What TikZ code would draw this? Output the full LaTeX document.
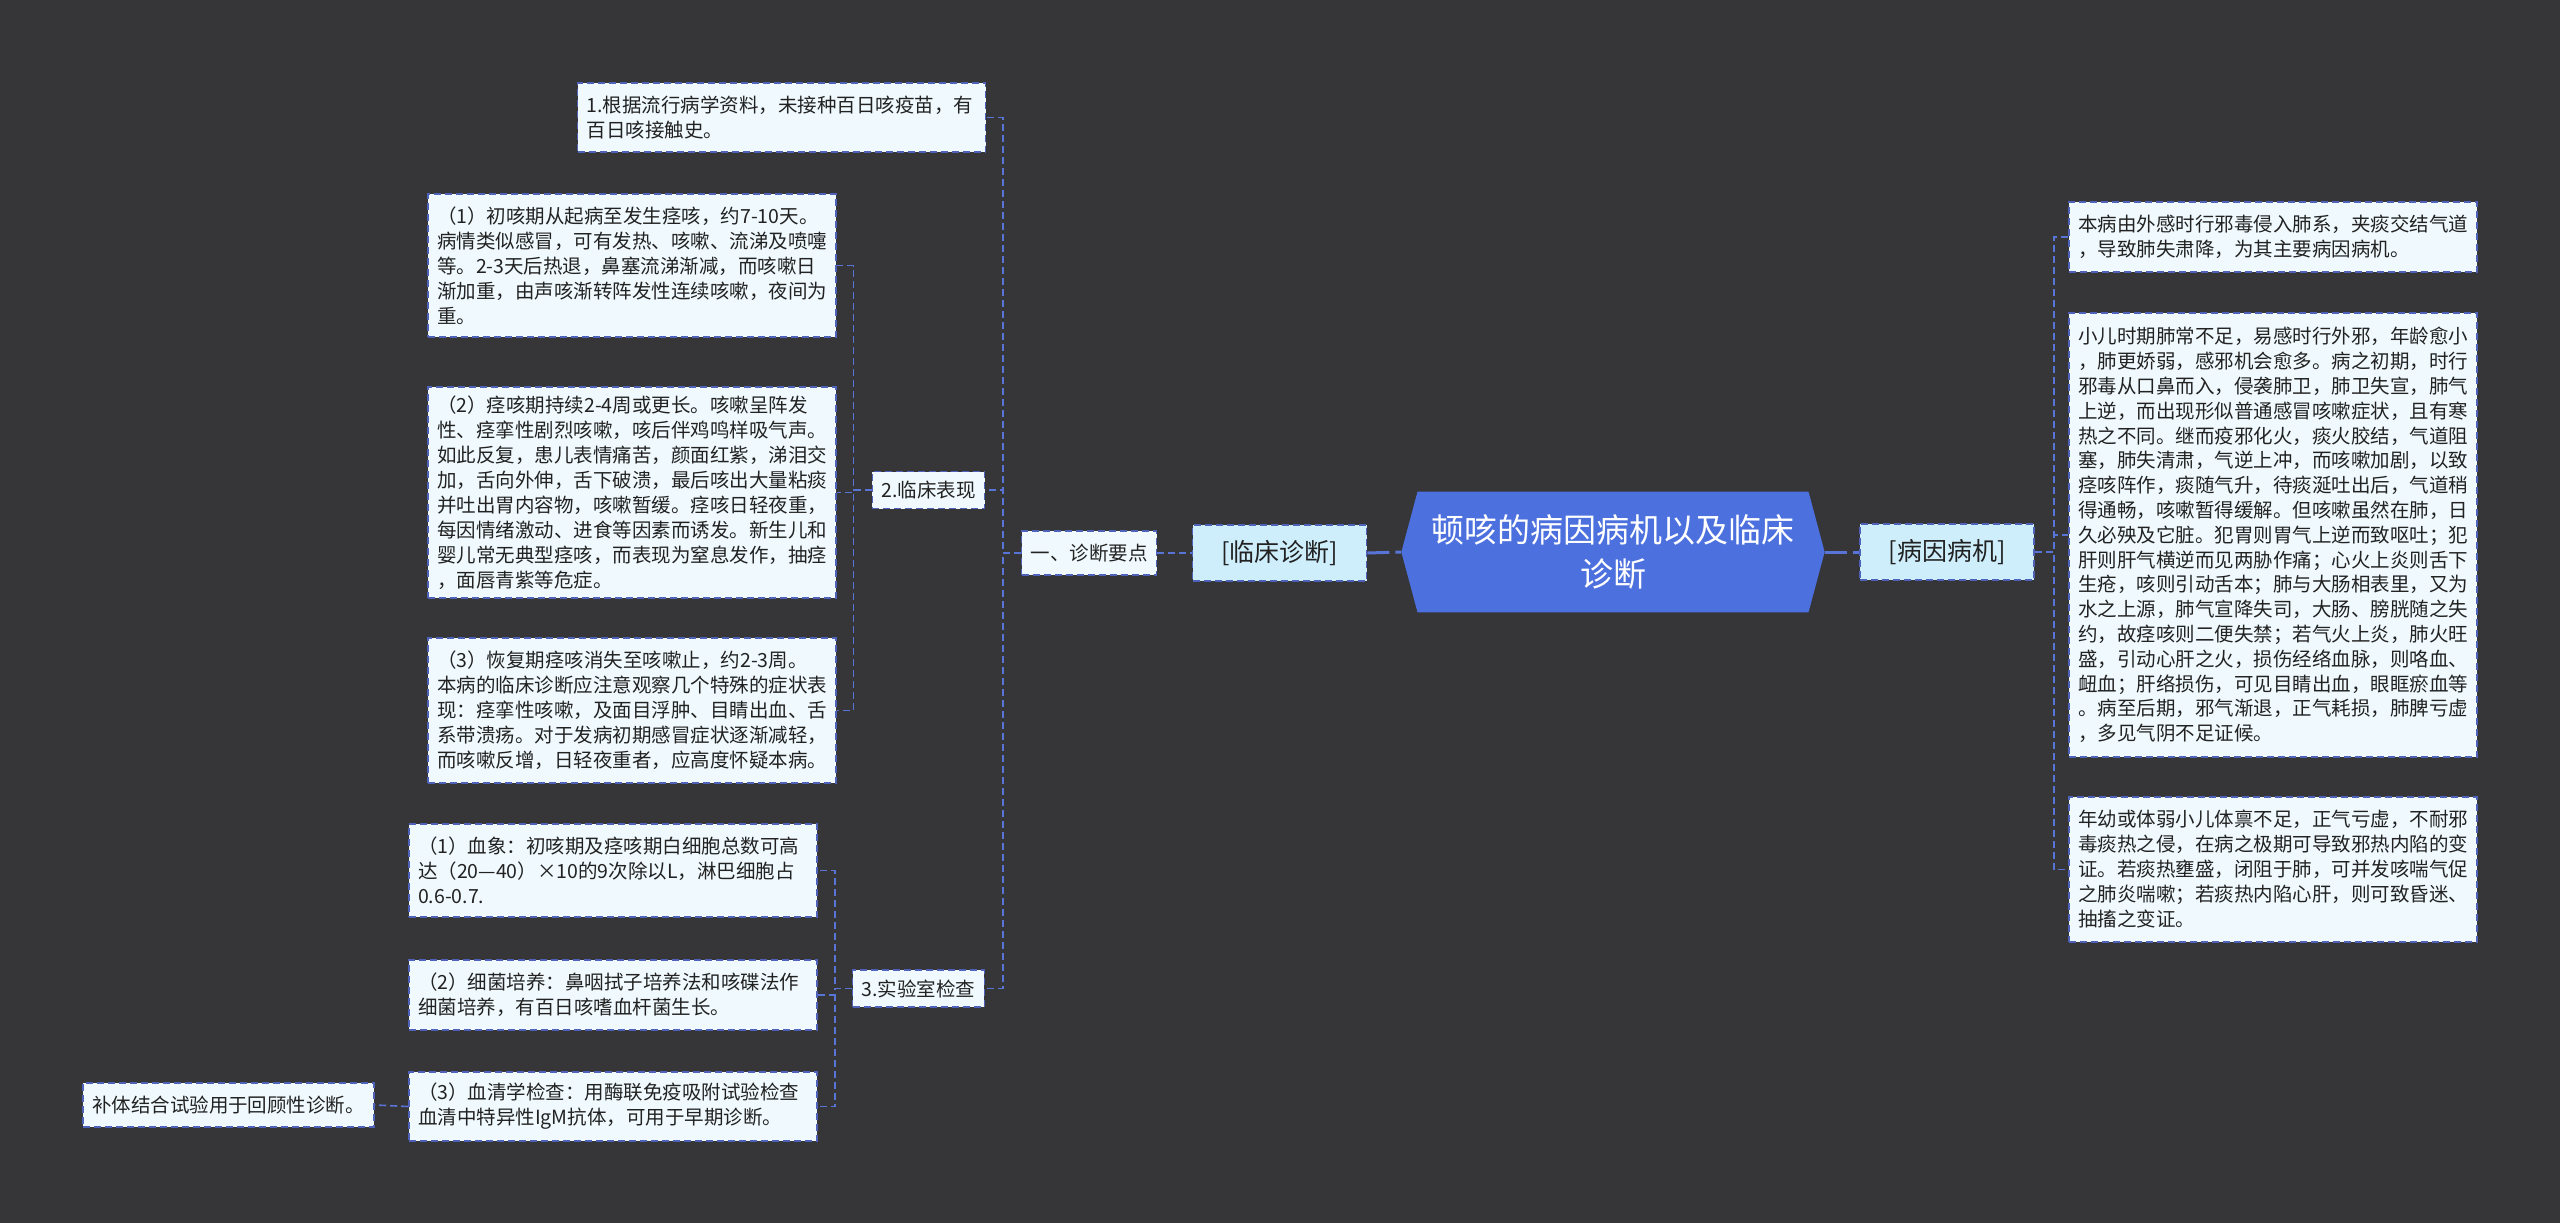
\documentclass[tikz,border=0pt]{standalone}
\usepackage{fontspec}
\setmainfont{Noto Sans CJK SC}
\usetikzlibrary{shapes.symbols}
\definecolor{bgdark}{RGB}{54,53,56}
\definecolor{hubblue}{RGB}{76,112,222}
\definecolor{edgeblue}{RGB}{78,98,185}
\definecolor{linkblue}{RGB}{88,116,214}
\definecolor{leaffill}{RGB}{240,250,254}
\definecolor{tagfill}{RGB}{206,238,252}
\definecolor{inkgray}{RGB}{34,34,34}

\begin{document}
\begin{tikzpicture}[x=1pt,y=-1pt,
  box/.style={draw=edgeblue,line width=1.6pt,dash pattern=on 7pt off 4pt,fill=leaffill,text=inkgray,
    font=\fontsize{19.5}{25}\selectfont,inner xsep=9pt,inner ysep=0pt},
  leaf/.style={box,text width=390pt,align=left},
  mid/.style={box,minimum height=37pt},
  tag/.style={box,fill=tagfill,font=\fontsize{25}{30}\selectfont,minimum width=174pt,minimum height=56pt},
  hub/.style={signal,signal to=west and east,signal pointer angle=150,fill=hubblue,draw=none,text=white,
    font=\fontsize{33}{44}\selectfont,align=center,inner xsep=14pt,inner ysep=23pt},
  link/.style={linkblue,line width=1.6pt,dash pattern=on 7pt off 4pt},
  mainlink/.style={linkblue,line width=3pt,dash pattern=on 22pt off 6pt}]
\fill[bgdark](0,0)rectangle(2560,1223);
% centre and the two branches
\node[hub] (hub) at (1613,552){顿咳的病因病机以及临床\\诊断};
\node[tag] (zhenduan) at (1279.5,553){[临床诊断]};
\node[tag] (bingji) at (1947,552){[病因病机]};
\node[mid,minimum height=44pt] (yaodian) at (1089,553){一、诊断要点};
\node[mid] (linchuang) at (928.5,490){2.临床表现};
\node[mid] (shiyan) at (918.5,988.5){3.实验室检查};
% left leaves
\node[leaf,minimum height=69pt] (a) at (781.5,117.5){1.根据流行病学资料，未接种百日咳疫苗，有\\百日咳接触史。};
\node[leaf,minimum height=143pt] (b1) at (632,265.5){（1）初咳期从起病至发生痉咳，约7-10天。\\病情类似感冒，可有发热、咳嗽、流涕及喷嚏\\等。2-3天后热退，鼻塞流涕渐减，而咳嗽日\\渐加重，由声咳渐转阵发性连续咳嗽，夜间为\\重。};
\node[leaf,minimum height=211pt] (b2) at (632,492.5){（2）痉咳期持续2-4周或更长。咳嗽呈阵发\\性、痉挛性剧烈咳嗽，咳后伴鸡鸣样吸气声。\\如此反复，患儿表情痛苦，颜面红紫，涕泪交\\加，舌向外伸，舌下破溃，最后咳出大量粘痰\\并吐出胃内容物，咳嗽暂缓。痉咳日轻夜重，\\每因情绪激动、进食等因素而诱发。新生儿和\\婴儿常无典型痉咳，而表现为窒息发作，抽痉\\，面唇青紫等危症。};
\node[leaf,minimum height=145pt] (b3) at (632,710.5){（3）恢复期痉咳消失至咳嗽止，约2-3周。\\本病的临床诊断应注意观察几个特殊的症状表\\现：痉挛性咳嗽，及面目浮肿、目睛出血、舌\\系带溃疡。对于发病初期感冒症状逐渐减轻，\\而咳嗽反增，日轻夜重者，应高度怀疑本病。};
\node[leaf,minimum height=93pt] (c1) at (613,870.5){（1）血象：初咳期及痉咳期白细胞总数可高\\达（20—40）×10的9次除以L，淋巴细胞占\\0.6-0.7.};
\node[leaf,minimum height=70pt] (c2) at (613,995){（2）细菌培养：鼻咽拭子培养法和咳碟法作\\细菌培养，有百日咳嗜血杆菌生长。};
\node[leaf,minimum height=69pt] (c3) at (613,1106.5){（3）血清学检查：用酶联免疫吸附试验检查\\血清中特异性IgM抗体，可用于早期诊断。};
\node[box,minimum height=44pt] (d) at (228.5,1105){补体结合试验用于回顾性诊断。};
% right leaves
\node[leaf,minimum height=70pt] (r1) at (2273,237){本病由外感时行邪毒侵入肺系，夹痰交结气道\\，导致肺失肃降，为其主要病因病机。};
\node[leaf,minimum height=444pt,font=\fontsize{19.5}{24.8}\selectfont] (r2) at (2273,535){小儿时期肺常不足，易感时行外邪，年龄愈小\\，肺更娇弱，感邪机会愈多。病之初期，时行\\邪毒从口鼻而入，侵袭肺卫，肺卫失宣，肺气\\上逆，而出现形似普通感冒咳嗽症状，且有寒\\热之不同。继而疫邪化火，痰火胶结，气道阻\\塞，肺失清肃，气逆上冲，而咳嗽加剧，以致\\痉咳阵作，痰随气升，待痰涎吐出后，气道稍\\得通畅，咳嗽暂得缓解。但咳嗽虽然在肺，日\\久必殃及它脏。犯胃则胃气上逆而致呕吐；犯\\肝则肝气横逆而见两胁作痛；心火上炎则舌下\\生疮，咳则引动舌本；肺与大肠相表里，又为\\水之上源，肺气宣降失司，大肠、膀胱随之失\\约，故痉咳则二便失禁；若气火上炎，肺火旺\\盛，引动心肝之火，损伤经络血脉，则咯血、\\衄血；肝络损伤，可见目睛出血，眼眶瘀血等\\。病至后期，邪气渐退，正气耗损，肺脾亏虚\\，多见气阴不足证候。};
\node[leaf,minimum height=145pt] (r3) at (2273,869.5){年幼或体弱小儿体禀不足，正气亏虚，不耐邪\\毒痰热之侵，在病之极期可导致邪热内陷的变\\证。若痰热壅盛，闭阻于肺，可并发咳喘气促\\之肺炎喘嗽；若痰热内陷心肝，则可致昏迷、\\抽搐之变证。};
% connectors
\draw[mainlink](zhenduan.east)--(hub.west);
\draw[mainlink](hub.east)--(bingji.west);
\draw[link](yaodian.east)--(zhenduan.west);
\foreach \kid in {a,linchuang,shiyan} \draw[link](yaodian.west)--++(-18,0)|-(\kid.east);
\foreach \kid in {b1,b2,b3} \draw[link](linchuang.west)--++(-18,0)|-(\kid.east);
\foreach \kid in {c1,c2,c3} \draw[link](shiyan.west)--++(-17,0)|-(\kid.east);
\draw[link](c3.west)--(d.east);
\foreach \kid in {r1,r2,r3} \draw[link](bingji.east)--++(19,0)|-(\kid.west);
\end{tikzpicture}
\end{document}
